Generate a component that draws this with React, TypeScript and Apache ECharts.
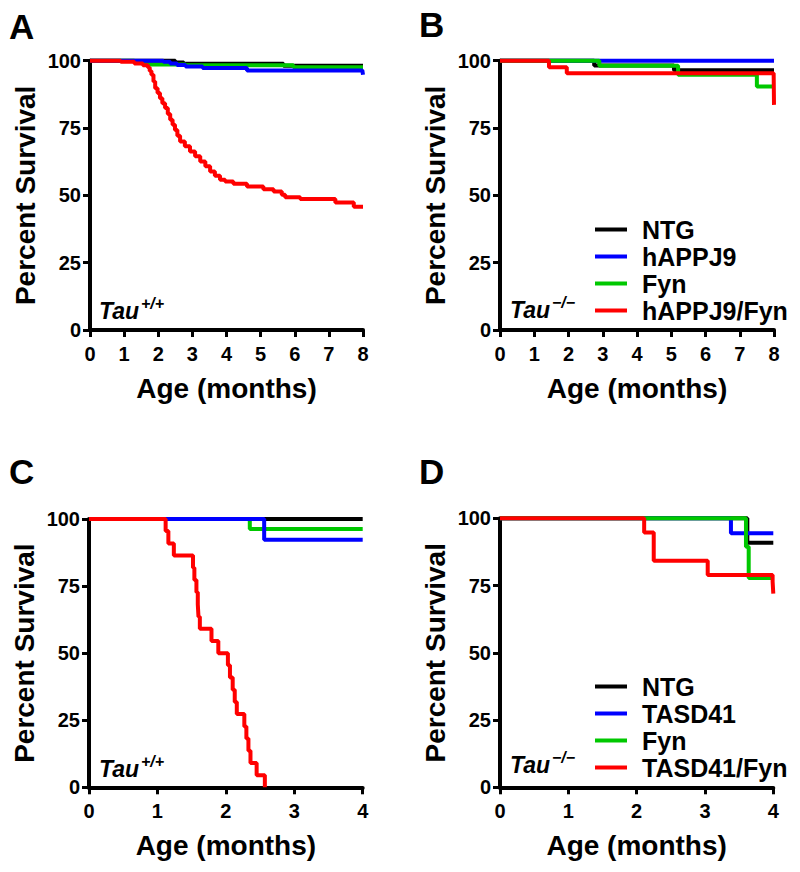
import React, { useEffect, useRef } from "react";
import * as echarts from "echarts";

type Pt = [number, number];

// ---- Panel A (Tau+/+, hAPPJ9 lines, 0-8 months)
const aNTG: Pt[] = [[0, 100], [2.5, 99.3], [2.75, 98.9], [5.67, 98.1], [8, 98.1]];
const aFyn: Pt[] = [[0, 100], [1.3, 99.3], [1.6, 98.6], [2.8, 98.3], [5.96, 97.6], [8, 97.6]];
const aAPP: Pt[] = [[0, 100], [2.15, 99.6], [2.35, 99.0], [2.55, 98.4], [2.8, 97.8], [3.3, 97.3], [4.6, 96.4], [7.98, 96.4], [8, 94.8]];
const aAPPFyn: Pt[] = [
  [0, 100], [0.9, 99.6], [1.3, 99], [1.55, 98.3], [1.7, 97.5], [1.75, 96.2], [1.8, 94.8], [1.86, 92.3],
  [1.91, 89.8], [1.98, 88], [2.05, 86.1], [2.12, 84.2], [2.2, 82.4], [2.28, 80.2], [2.35, 78.1], [2.42, 76.2],
  [2.49, 74.3], [2.56, 72.1], [2.64, 70], [2.78, 68.2], [2.93, 66.3], [3.08, 64.5], [3.23, 62.6], [3.38, 60.8],
  [3.52, 58.9], [3.66, 57.3], [3.81, 55.8], [3.96, 55.1], [4.2, 54.3], [4.6, 53.3], [5.08, 52.3], [5.38, 51.4],
  [5.62, 50.2], [5.72, 49.3], [6.16, 48.6], [7.19, 47.3], [7.73, 45.8], [8, 45.8],
];

// ---- Panel B (Tau-/-, hAPPJ9 lines, 0-8 months)
const bNTG: Pt[] = [[0, 100], [2.75, 98.2], [5.08, 96.5], [8, 96.5]];
const bAPP: Pt[] = [[0, 100], [8, 100]];
const bFyn: Pt[] = [[0, 100], [2.9, 98.1], [5.2, 94.8], [7.5, 90.4], [8, 90.4]];
const bAPPFyn: Pt[] = [[0, 100], [1.43, 97.6], [1.95, 95.3], [7.99, 95.3], [8, 83.6]];

// ---- Panel C (Tau+/+, TASD41 lines, 0-4 months)
const cNTG: Pt[] = [[0, 100], [4, 100]];
const cFyn: Pt[] = [[0, 100], [2.35, 96.3], [4, 96.3]];
const cTASD: Pt[] = [[0, 100], [2.56, 92.3], [4, 92.3]];
const cTASDFyn: Pt[] = [
  [0, 100], [1.12, 95.5], [1.16, 90.9], [1.24, 86.4], [1.52, 81.8], [1.54, 77.3], [1.57, 72.7], [1.59, 68.2],
  [1.6, 63.6], [1.62, 59.1], [1.79, 54.5], [1.89, 50], [2.03, 45.5], [2.06, 40.9], [2.1, 36.4], [2.13, 31.8],
  [2.16, 27.3], [2.27, 22.7], [2.3, 18.2], [2.33, 13.6], [2.36, 9.1], [2.45, 4.5], [2.57, 0],
];

// ---- Panel D (Tau-/-, TASD41 lines, 0-4 months)
const dNTG: Pt[] = [[0, 100], [3.62, 90.9], [4, 90.9]];
const dTASD: Pt[] = [[0, 100], [3.38, 94.4], [4, 94.4]];
const dFyn: Pt[] = [[0, 100], [3.6, 89.4], [3.64, 77.8], [4, 77.8]];
const dTASDFyn: Pt[] = [[0, 100], [2.11, 94.7], [2.25, 84.2], [3.04, 78.9], [3.99, 76.5], [4, 72]];

const legendB = ["NTG", "hAPPJ9", "Fyn", "hAPPJ9/Fyn"];
const legendD = ["NTG", "TASD41", "Fyn", "TASD41/Fyn"];
const yTicks = [0, 25, 50, 75, 100];
const panelLetters = ["A", "B", "C", "D"];

const FONT = '"Liberation Sans", Arial, Helvetica, sans-serif';
const BLACK = "#000000";
const BLUE = "#0000ff";
const GREEN = "#00c800";
const RED = "#ff0000";

const grids = [
  { left: 90, top: 60.7, width: 273, height: 269.3 },
  { left: 500, top: 60.7, width: 274, height: 269.3 },
  { left: 89, top: 519, width: 273.7, height: 268.3 },
  { left: 500, top: 518.3, width: 273.3, height: 269 },
];
const xMax = [8, 8, 4, 4];

function xAxisFor(i: number) {
  return {
    type: "value",
    gridIndex: i,
    min: 0,
    max: xMax[i],
    interval: 1,
    axisLine: { show: true, onZero: false, lineStyle: { color: BLACK, width: 4 } },
    axisTick: { show: true, length: 7, lineStyle: { color: BLACK, width: 3 } },
    axisLabel: { color: BLACK, fontSize: 20, fontWeight: "bold", fontFamily: FONT, margin: 14 },
    splitLine: { show: false },
    name: "Age (months)",
    nameLocation: "middle",
    nameGap: 44,
    nameTextStyle: { color: BLACK, fontSize: 28, fontWeight: "bold", fontFamily: FONT },
  };
}

function yAxisFor(i: number) {
  return {
    type: "value",
    gridIndex: i,
    min: 0,
    max: 100,
    interval: 25,
    axisLine: { show: true, lineStyle: { color: BLACK, width: 4 } },
    axisTick: { show: true, length: 7, lineStyle: { color: BLACK, width: 3 } },
    axisLabel: {
      color: BLACK, fontSize: 20, fontWeight: "bold", fontFamily: FONT, margin: 9,
      formatter: (v: number) => (yTicks.includes(v) ? String(v) : ""),
    },
    splitLine: { show: false },
    name: "Percent Survival",
    nameLocation: "middle",
    nameGap: 51,
    nameTextStyle: { color: BLACK, fontSize: 28, fontWeight: "bold", fontFamily: FONT },
  };
}

function line(name: string, data: Pt[], color: string, idx: number) {
  return {
    type: "line",
    name,
    data,
    xAxisIndex: idx,
    yAxisIndex: idx,
    step: "end",
    symbol: "none",
    showSymbol: false,
    clip: false,
    lineStyle: { color, width: 4 },
    itemStyle: { color },
    emphasis: { disabled: true },
    animation: false,
  };
}

function legendFor(data: string[], left: number, top: number) {
  return {
    orient: "vertical",
    left,
    top,
    padding: 0,
    itemGap: 2,
    itemWidth: 32,
    itemHeight: 4,
    icon: "rect",
    data,
    selectedMode: false,
    textStyle: {
      color: BLACK, fontSize: 25, fontWeight: "bold", fontFamily: FONT,
      lineHeight: 25, padding: [0, 0, 0, 10],
    },
  };
}

function letter(text: string, x: number, y: number) {
  return {
    type: "text", x, y, silent: true,
    style: { text, fill: BLACK, fontSize: 35, fontWeight: "bold", fontFamily: FONT, align: "left", verticalAlign: "middle" },
  };
}

function tau(sup: string, x: number, y: number) {
  return [
    {
      type: "text", x, y, silent: true,
      style: { text: "Tau", fill: BLACK, fontSize: 23, fontWeight: "bold", fontStyle: "italic", fontFamily: FONT, align: "left", verticalAlign: "middle" },
    },
    {
      type: "text", x: x + 42, y: y - 8, silent: true,
      style: { text: sup, fill: BLACK, fontSize: 16, fontWeight: "bold", fontStyle: "italic", fontFamily: FONT, align: "left", verticalAlign: "middle" },
    },
  ];
}

export default function App() {
  const ref = useRef<HTMLDivElement>(null);
  useEffect(() => {
    if (!ref.current) return;
    const chart = echarts.init(ref.current, undefined, { renderer: "svg" });
    const option = {
      animation: false,
      backgroundColor: "#ffffff",
      grid: grids,
      xAxis: [0, 1, 2, 3].map(xAxisFor),
      yAxis: [0, 1, 2, 3].map(yAxisFor),
      legend: [legendFor(legendB, 595, 217), legendFor(legendD, 595, 674)],
      series: [
        line("NTG", aNTG, BLACK, 0),
        line("Fyn", aFyn, GREEN, 0),
        line("hAPPJ9", aAPP, BLUE, 0),
        line("hAPPJ9/Fyn", aAPPFyn, RED, 0),

        line("NTG", bNTG, BLACK, 1),
        line("hAPPJ9", bAPP, BLUE, 1),
        line("Fyn", bFyn, GREEN, 1),
        line("hAPPJ9/Fyn", bAPPFyn, RED, 1),

        line("NTG", cNTG, BLACK, 2),
        line("Fyn", cFyn, GREEN, 2),
        line("TASD41", cTASD, BLUE, 2),
        line("TASD41/Fyn", cTASDFyn, RED, 2),

        line("NTG", dNTG, BLACK, 3),
        line("TASD41", dTASD, BLUE, 3),
        line("Fyn", dFyn, GREEN, 3),
        line("TASD41/Fyn", dTASDFyn, RED, 3),
      ],
      graphic: {
        elements: [
          letter(panelLetters[0], 9, 26),
          letter(panelLetters[1], 419, 24),
          letter(panelLetters[2], 9, 471),
          letter(panelLetters[3], 419, 471),
          ...tau("+/+", 99, 311),
          ...tau("\u2212/\u2212", 510, 310),
          ...tau("+/+", 99, 769),
          ...tau("\u2212/\u2212", 510, 765),
        ],
      },
    };
    chart.setOption(option as any);
    return () => chart.dispose();
  }, []);
  return (
    <div
      ref={ref}
      style={{ position: "absolute", left: 0, top: 0, width: 800, height: 872, background: "#fff" }}
    />
  );
}
